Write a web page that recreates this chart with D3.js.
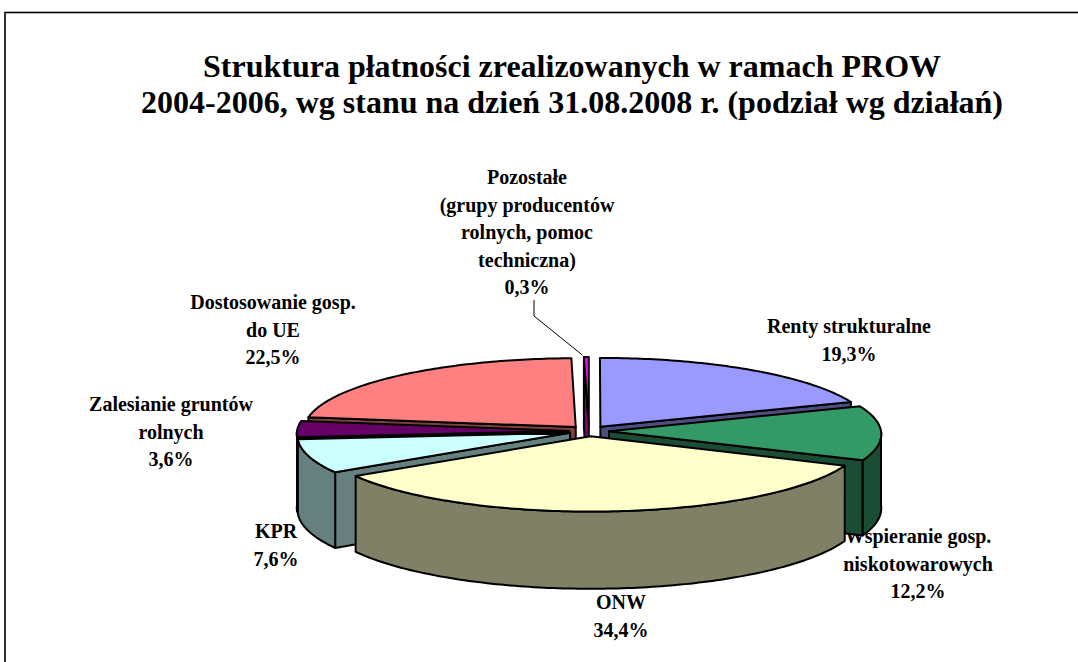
<!DOCTYPE html>
<html>
<head>
<meta charset="utf-8">
<script src="https://cdn.jsdelivr.net/npm/d3@7"></script>
<style>
  body { margin: 0; background: #fff; }
  svg text { font-family: "Liberation Serif", "Times New Roman", serif; font-weight: bold; fill: #000; }
</style>
</head>
<body>
<svg id="chart" width="1078" height="662"></svg>
<script>
// data
const categories = ["Renty strukturalne", "Wspieranie gosp. niskotowarowych", "ONW", "KPR",
  "Zalesianie gruntów rolnych", "Dostosowanie gosp. do UE",
  "Pozostałe (grupy producentów rolnych, pomoc techniczna)"];
const values = [19.3, 12.2, 34.4, 7.6, 3.6, 22.5, 0.3];
const labelLines = [
  ["Renty strukturalne"],
  ["Wspieranie gosp.", "niskotowarowych"],
  ["ONW"],
  ["KPR"],
  ["Zalesianie gruntów", "rolnych"],
  ["Dostosowanie gosp.", "do UE"],
  ["Pozostałe", "(grupy producentów", "rolnych, pomoc", "techniczna)"]
];
const titleLines = ["Struktura płatności zrealizowanych w ramach PROW",
  "2004-2006, wg stanu na dzień 31.08.2008 r. (podział wg działań)"];

// styles / layout
const colors = ["#9999FF", "#339966", "#FFFFCC", "#CCFFFF", "#660066", "#FF8080", "#FF00FF"];
const labelPos = [[849, 333], [918, 543], [621, 609], [276, 538], [171, 411], [273, 309], [527, 184]];
const lineH = 27.5;

const svg = d3.select("#chart");
const cx = 589, cy = 431, RX = 272, RY = 72, H = 74, P = 0.04, EXPLODE = 0.0735;

svg.append("rect")
  .attr("x", 5).attr("y", 12.5).attr("width", 1200).attr("height", 800)
  .attr("fill", "#fff").attr("stroke", "#000").attr("stroke-width", 1.6);

svg.selectAll("text.title")
  .data(titleLines)
  .join("text")
  .attr("class", "title")
  .attr("x", 572)
  .attr("y", (d, i) => 77 + i * 36)
  .attr("text-anchor", "middle")
  .attr("font-size", 32)
  .text(d => d);

const fmt = v => v.toFixed(1).replace(".", ",") + "%";

// labels go under the pie, like in the original
const lab = svg.append("g");
labelLines.forEach((lines, i) => {
  const all = lines.concat([fmt(values[i])]);
  const t = lab.append("text")
    .attr("text-anchor", "middle")
    .attr("font-size", 20);
  all.forEach((s, j) => {
    t.append("tspan")
      .attr("x", labelPos[i][0])
      .attr("y", labelPos[i][1] + j * lineH)
      .text(s);
  });
});

const arcs = d3.pie().sort(null).value(d => d)(values);

function proj(theta, r, off, z) {
  const u = r * Math.sin(theta) + off[0];
  const v = -r * Math.cos(theta) + off[1];
  const s = 1 + P * v;
  return [cx + RX * u * s, cy + RY * v * s + z * s];
}

const slices = arcs.map((a, i) => {
  const mid = (a.startAngle + a.endAngle) / 2;
  const off = [EXPLODE * Math.sin(mid), -EXPLODE * Math.cos(mid)];
  return { a, i, mid, off, color: colors[i] };
});

function arcPts(sl, t0, t1, z) {
  const n = Math.max(2, Math.ceil((t1 - t0) / (Math.PI / 180)));
  return d3.range(n + 1).map(k => proj(t0 + (t1 - t0) * k / n, 1, sl.off, z));
}

const line = d3.line();
const side = c => d3.color(c).darker(1).formatHex();
const half = c => { const k = d3.rgb(c); return d3.rgb(k.r / 2, k.g / 2, k.b / 2).formatHex(); };

const pie = svg.append("g")
  .attr("stroke", "#000")
  .attr("stroke-width", 2)
  .attr("stroke-linejoin", "round");

// radial cut faces that face the viewer
const faces = [];
slices.forEach(sl => {
  const { startAngle: a0, endAngle: a1 } = sl.a;
  if (Math.sin(a0) < -1e-6) faces.push({ sl, t: a0 });
  if (Math.sin(a1) > 1e-6) faces.push({ sl, t: a1 });
});
faces.sort((p, q) => (-Math.cos(p.t) + p.sl.off[1]) - (-Math.cos(q.t) + q.sl.off[1]));

pie.selectAll("path.face")
  .data(faces)
  .join("path")
  .attr("class", "face")
  .attr("fill", d => half(d.sl.color))
  .attr("d", d => line([
    proj(0, 0, d.sl.off, 0), proj(d.t, 1, d.sl.off, 0),
    proj(d.t, 1, d.sl.off, H), proj(0, 0, d.sl.off, H)
  ]) + "Z");

// outer walls, front half only
const walls = slices.map(sl => {
  const t0 = Math.max(sl.a.startAngle, Math.PI / 2);
  const t1 = Math.min(sl.a.endAngle, 3 * Math.PI / 2);
  return t1 > t0 ? { sl, t0, t1 } : null;
}).filter(Boolean);

pie.selectAll("path.wall")
  .data(walls)
  .join("path")
  .attr("class", "wall")
  .attr("fill", d => half(d.sl.color))
  .attr("d", d => line(arcPts(d.sl, d.t0, d.t1, 0)
    .concat(arcPts(d.sl, d.t0, d.t1, H).reverse())) + "Z");

// top surfaces
pie.selectAll("path.top")
  .data(slices)
  .join("path")
  .attr("class", "top")
  .attr("fill", d => d.color)
  .attr("d", d => line([proj(0, 0, d.off, 0)]
    .concat(arcPts(d, d.a.startAngle, d.a.endAngle, 0))) + "Z");

// leader line for the tiny slice
const small = slices[6];
const tip = proj(small.mid, 1, small.off, 0);
svg.append("path")
  .attr("fill", "none")
  .attr("stroke", "#000")
  .attr("stroke-width", 1)
  .attr("d", line([[534, 300], [534, 316], [tip[0] - 4, tip[1] - 2]]));
</script>
</body>
</html>
